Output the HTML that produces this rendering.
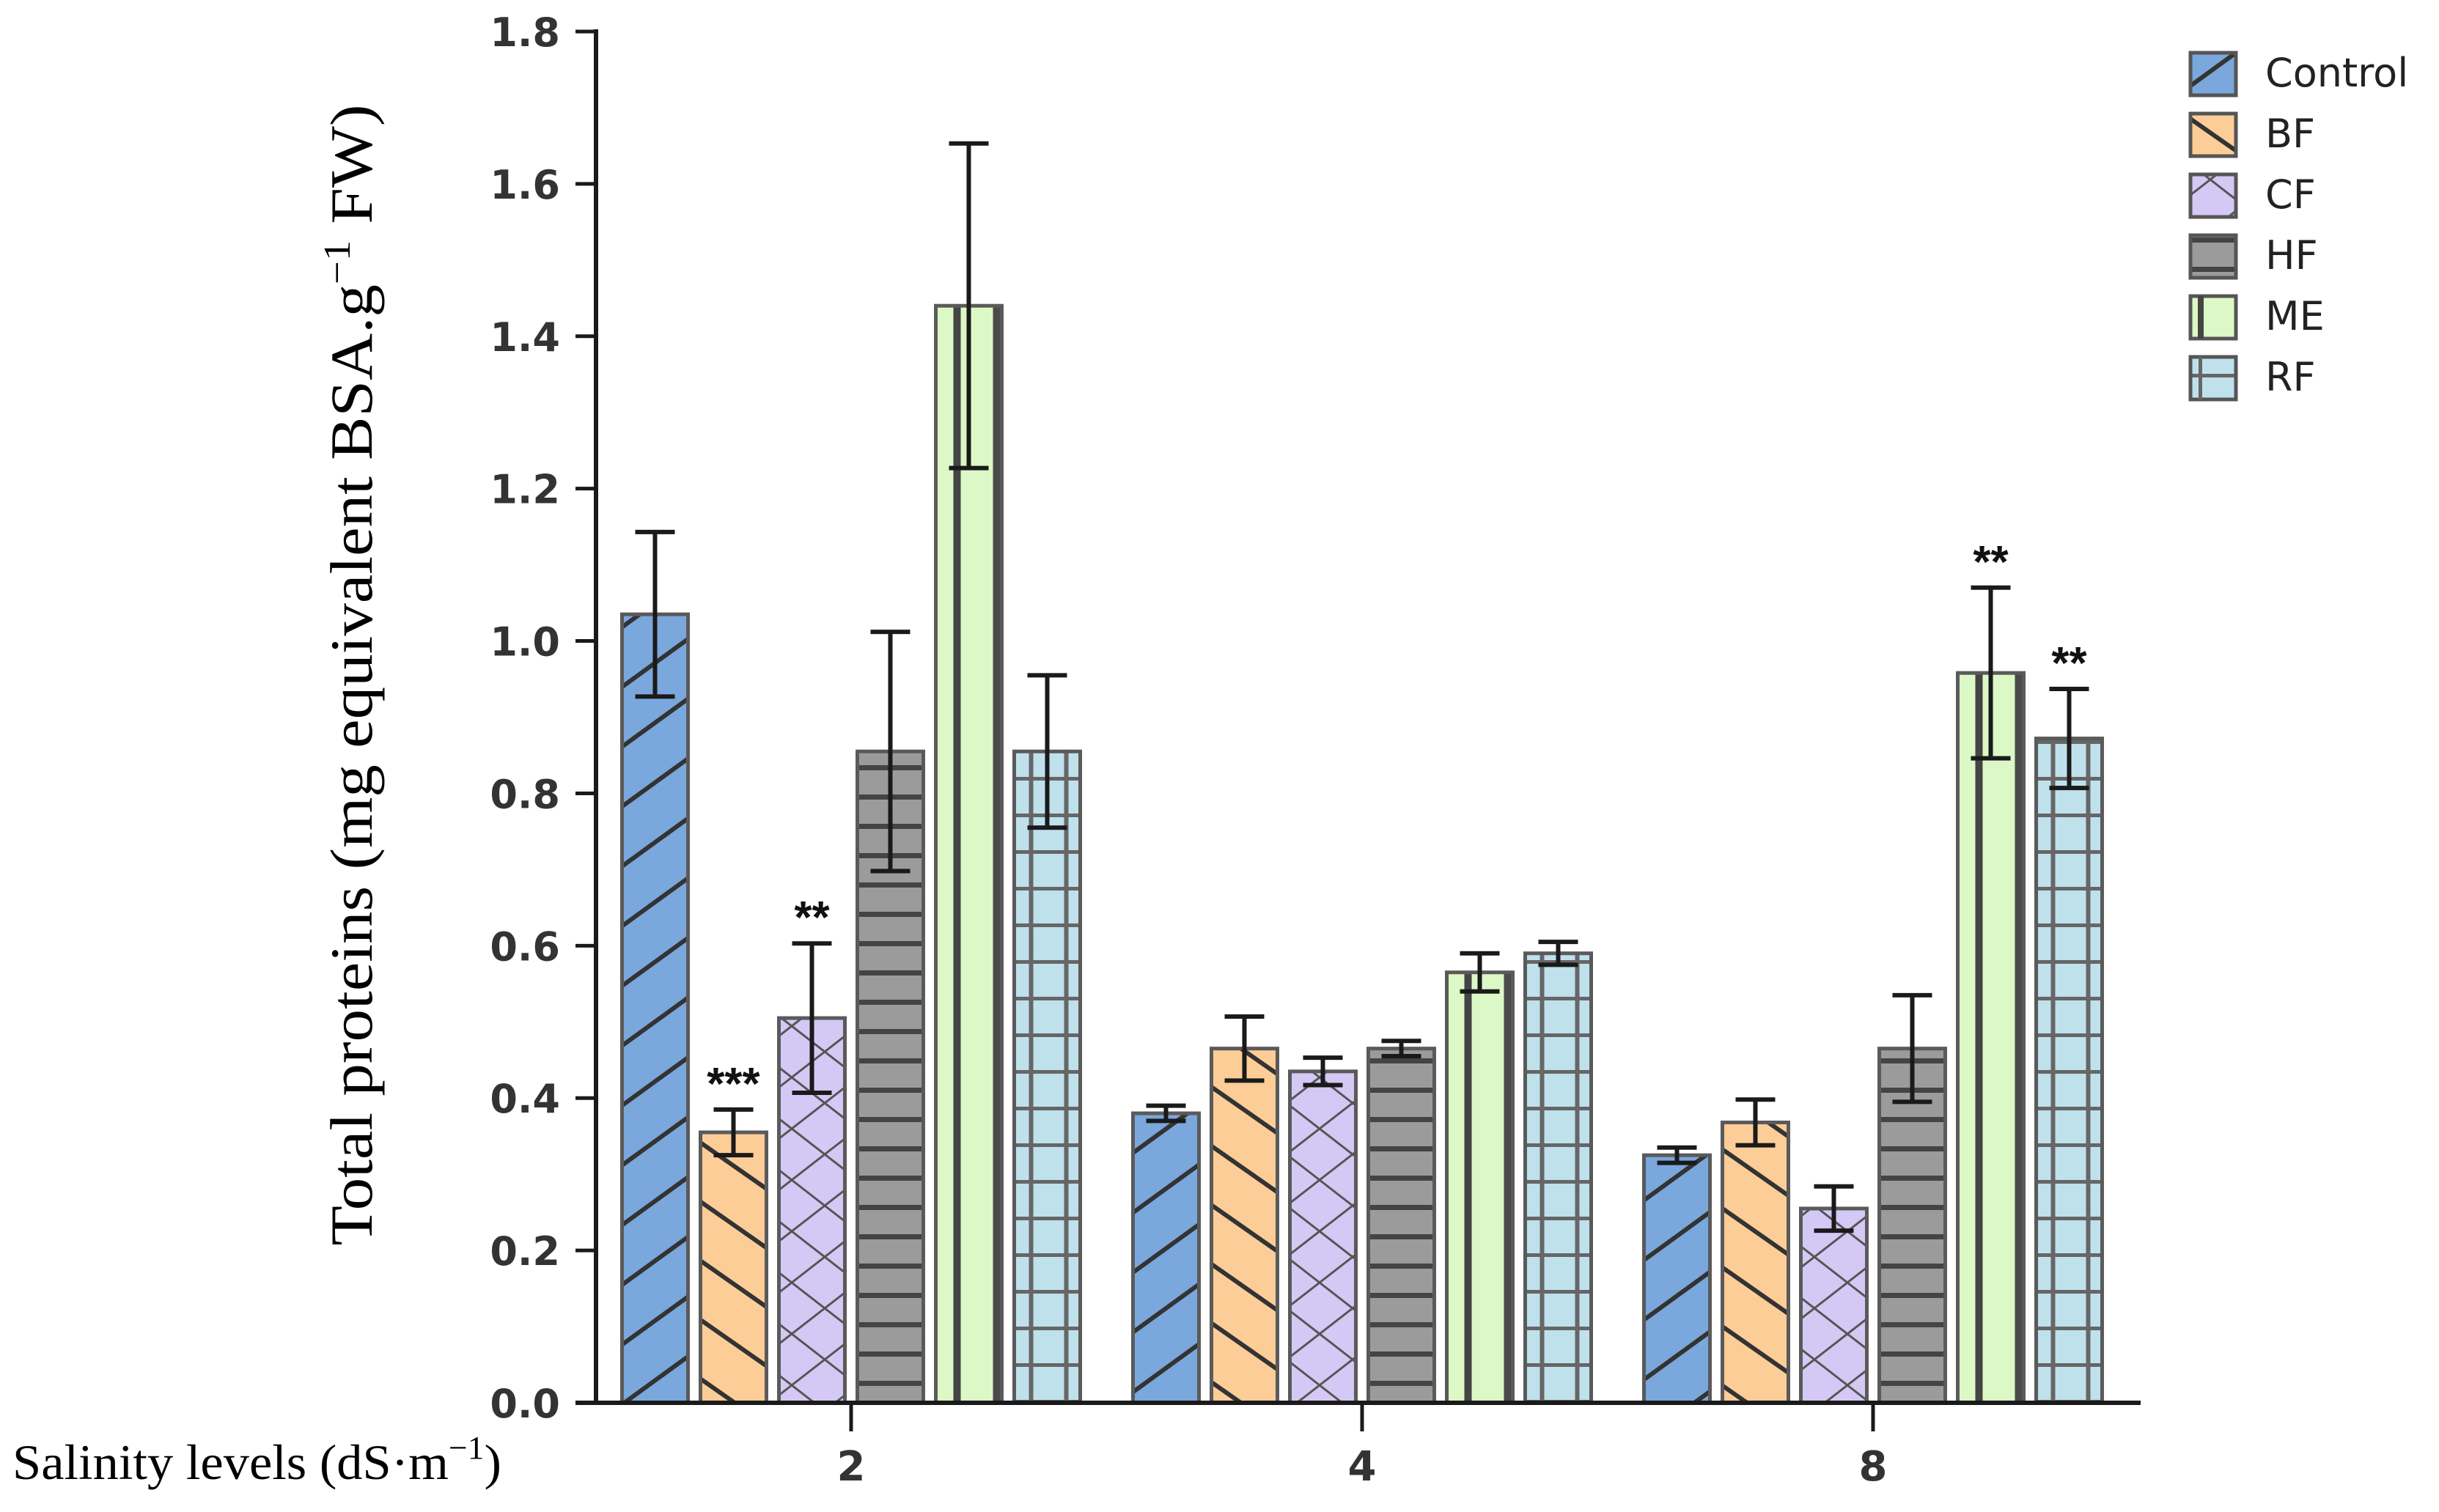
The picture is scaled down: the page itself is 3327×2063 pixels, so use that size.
<!DOCTYPE html>
<html><head><meta charset="utf-8"><style>
html,body{margin:0;padding:0;background:#fff;}
svg{display:block;}
</style></head><body>
<svg id="chart" xmlns="http://www.w3.org/2000/svg" width="3327" height="2063" viewBox="0 0 3327 2063">
<defs>
<pattern id="p-control" patternUnits="userSpaceOnUse" width="66" height="66" patternTransform="rotate(-36)"><rect width="66" height="66" fill="#7aa7dc"/><rect y="0" width="66" height="6" fill="#333"/></pattern>
<pattern id="p-bf" patternUnits="userSpaceOnUse" width="66" height="66" patternTransform="rotate(35)"><rect width="66" height="66" fill="#fdcd98"/><rect y="0" width="66" height="6" fill="#333"/></pattern>
<pattern id="p-cf" patternUnits="userSpaceOnUse" width="90" height="140"><rect width="90" height="140" fill="#d4c9f5"/><path d="M0,0 L90,70 L0,140 M90,0 L0,70 L90,140" stroke="#555" stroke-width="3" fill="none"/></pattern>
<pattern id="p-hf" patternUnits="userSpaceOnUse" width="40" height="40" y="4"><rect width="40" height="40" fill="#9b9b9b"/><rect y="0" width="40" height="7" fill="#444"/></pattern>
<pattern id="p-me" patternUnits="userSpaceOnUse" width="40" height="40"><rect width="40" height="40" fill="#dcf8c6"/></pattern>
<pattern id="p-rf" patternUnits="userSpaceOnUse" width="40" height="50" y="10"><rect width="40" height="50" fill="#bfe1ec"/><rect y="0" width="40" height="5" fill="#666"/></pattern>
</defs>
<g id="plot"></g>
<text x="0" y="0" transform="translate(507,921) rotate(-90)" text-anchor="middle" font-family="Liberation Serif, serif" font-size="82" textLength="1557" lengthAdjust="spacingAndGlyphs" fill="#000">Total proteins (mg equivalent BSA.g<tspan font-size="52" dy="-30">−1</tspan><tspan dy="30"> FW)</tspan></text>
<text x="17" y="2018" font-family="Liberation Serif, serif" font-size="68" textLength="667" lengthAdjust="spacingAndGlyphs" fill="#000">Salinity levels (dS·m<tspan font-size="44" dy="-28">−1</tspan><tspan dy="28">)</tspan></text>
<g id="legend"></g>
</svg>
<script>
const categories = ["2", "4", "8"];
const series = ["Control", "BF", "CF", "HF", "ME", "RF"];
const controlVals = [1.035, 0.38, 0.325];
const bfVals = [0.355, 0.465, 0.368];
const cfVals = [0.505, 0.435, 0.255];
const hfVals = [0.855, 0.465, 0.465];
const meVals = [1.44, 0.565, 0.958];
const rfVals = [0.855, 0.59, 0.872];
const controlErr = [0.108, 0.01, 0.01];
const bfErr = [0.03, 0.042, 0.03];
const cfErr = [0.098, 0.018, 0.029];
const hfErr = [0.157, 0.01, 0.07];
const meErr = [0.213, 0.025, 0.112];
const rfErr = [0.1, 0.015, 0.065];
const controlSig = ["", "", ""];
const bfSig = ["***", "", ""];
const cfSig = ["**", "", ""];
const hfSig = ["", "", ""];
const meSig = ["", "", "**"];
const rfSig = ["", "", "**"];
const yTicks = [0, 0.2, 0.4, 0.6, 0.8, 1.0, 1.2, 1.4, 1.6, 1.8];

const NS = "http://www.w3.org/2000/svg";
const allVals = [controlVals, bfVals, cfVals, hfVals, meVals, rfVals];
const allErr = [controlErr, bfErr, cfErr, hfErr, meErr, rfErr];
const allSig = [controlSig, bfSig, cfSig, hfSig, meSig, rfSig];
const fills = ["url(#p-control)","url(#p-bf)","url(#p-cf)","url(#p-hf)","url(#p-me)","url(#p-rf)"];
const axisX = 813, y0 = 1914, yTop = 43, yMax = 1.8;
const y = v => y0 - (v / yMax) * (y0 - yTop);
const groupCenters0 = 1161, groupStep = 697, pitch = 107, barW = 90;
const xc = (g, s) => groupCenters0 + g * groupStep + (s - 2.5) * pitch;
const plot = document.getElementById("plot");
function mk(tag, attrs, parent) {
  const e = document.createElementNS(NS, tag);
  for (const k in attrs) e.setAttribute(k, attrs[k]);
  (parent || plot).appendChild(e);
  return e;
}
series.forEach((name, s) => {
  categories.forEach((c, g) => {
    const v = allVals[s][g];
    const cx = xc(g, s), top = y(v), x = cx - barW / 2;
    const grp = mk("g", {});
    
    
    mk("rect", {x: x, y: top, width: barW, height: y0 - top, fill: fills[s]}, grp);
    if (s === 4) {
      mk("rect", {x: x + 24, y: top, width: 10, height: y0 - top, fill: "#444"}, grp);
      mk("rect", {x: x + barW - 12, y: top, width: 12, height: y0 - top, fill: "#4a4a4a"}, grp);
    }
    if (s === 5) {
      mk("rect", {x: x + 20, y: top, width: 6, height: y0 - top, fill: "#666"}, grp);
      mk("rect", {x: x + barW - 22, y: top, width: 6, height: y0 - top, fill: "#666"}, grp);
    }
    mk("rect", {x: x, y: top, width: barW, height: y0 - top, fill: "none", stroke: "#5a5a5a", "stroke-width": 5}, grp);
    const e = allErr[s][g];
    const eb = mk("path", {d: `M${cx},${y(v+e)} V${y(v-e)} M${cx-27},${y(v+e)} H${cx+27} M${cx-27},${y(v-e)} H${cx+27}`, stroke: "#1a1a1a", "stroke-width": 6, fill: "none"});
    
    
    const sig = allSig[s][g];
    if (sig) {
      const t = mk("text", {x: cx, y: y(v+e) - 14, "text-anchor": "middle", "font-family": "Liberation Sans, sans-serif", "font-weight": "bold", "font-size": 62, fill: "#111"});
      t.textContent = sig;
      
      
    }
  });
});
const ya = mk("line", {x1: axisX, y1: yTop - 3, x2: axisX, y2: y0, stroke: "#1a1a1a", "stroke-width": 6});


const xa = mk("line", {x1: axisX - 28, y1: y0, x2: 2920, y2: y0, stroke: "#1a1a1a", "stroke-width": 6});


yTicks.forEach(t => {
  const ln = mk("line", {x1: axisX - 28, y1: y(t), x2: axisX, y2: y(t), stroke: "#1a1a1a", "stroke-width": 5});
  
  
  const lb = mk("text", {x: 764, y: y(t) + 20, "text-anchor": "end", "font-family": "DejaVu Sans, sans-serif", "font-weight": "bold", "font-size": 54, fill: "#333"});
  lb.textContent = t.toFixed(1);
  
  
});
categories.forEach((c, g) => {
  const cx = groupCenters0 + g * groupStep;
  const ln = mk("line", {x1: cx, y1: y0, x2: cx, y2: 1953, stroke: "#1a1a1a", "stroke-width": 5});
  
  
  const lb = mk("text", {x: cx, y: 2020, "text-anchor": "middle", "font-family": "DejaVu Sans, sans-serif", "font-weight": "bold", "font-size": 56, fill: "#333"});
  lb.textContent = c;
  
  
});
const legend = document.getElementById("legend");
series.forEach((name, s) => {
  const ty = 72 + s * 83;
  const ent = mk("g", {}, legend);
  
  
  mk("rect", {x: 2988, y: ty, width: 62, height: 58, fill: fills[s], stroke: "#555", "stroke-width": 5}, ent);
  if (s === 4) mk("rect", {x: 2998, y: ty, width: 8, height: 58, fill: "#444"}, ent);
  if (s === 5) mk("rect", {x: 2999, y: ty, width: 5, height: 58, fill: "#666"}, ent);
  const t = mk("text", {x: 3090, y: ty + 46, "font-family": "DejaVu Sans, sans-serif", "font-size": 54, fill: "#222"}, ent);
  t.textContent = name;
});
</script>
</body></html>
